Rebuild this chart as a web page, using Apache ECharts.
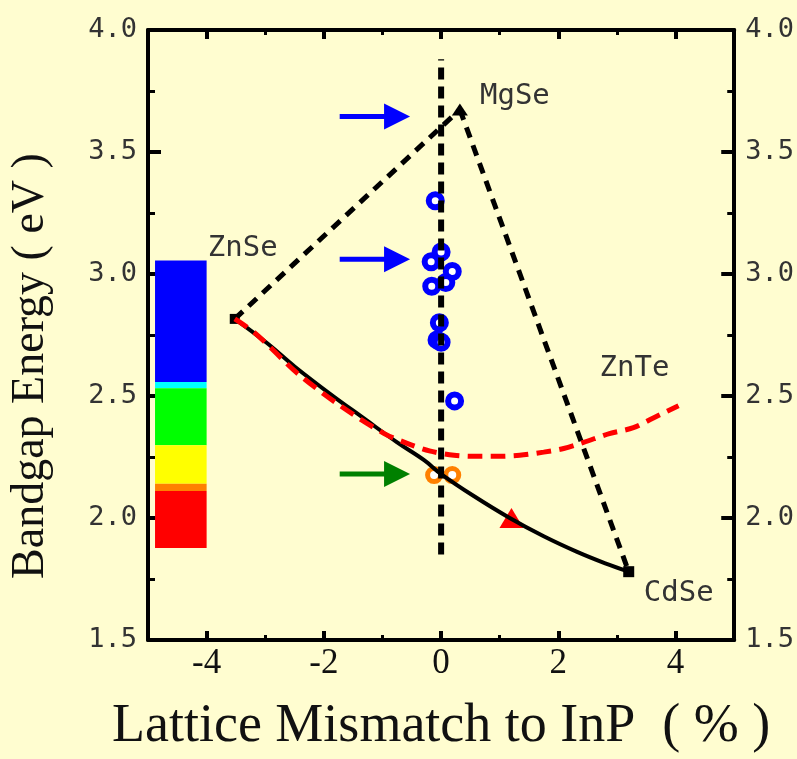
<!DOCTYPE html>
<html>
<head>
<meta charset="utf-8">
<script src="https://cdn.jsdelivr.net/npm/echarts@6/dist/echarts.min.js"></script>
<style>
  html, body { margin: 0; padding: 0; background: #fffdd0; }
  #chart { width: 797px; height: 759px; }
</style>
</head>
<body>
<div id="chart"></div>
<script>
// ---- axis ticks ----
const xMajorTicks = [-4, -2, 0, 2, 4];
const xMinorTicks = [-3, -1, 1, 3];

// ---- binary compounds: lattice mismatch to InP (%) and bandgap (eV) ----
const compoundNames = ['ZnSe', 'MgSe', 'CdSe', 'ZnTe'];
const compoundX = [-3.52, 0.32, 3.2, 4.05];
const compoundY = [2.816, 3.674, 1.78, 2.46];

// ---- ZnCdSe alloy (solid) ----
const znCdSeX = [-3.52, -2.96, -2.5, -1.89, -1.31, -0.75, -0.29, 0.0, 0.55, 1.17, 1.75, 2.31, 2.8, 3.2];
const znCdSeY = [2.816, 2.715, 2.621, 2.508, 2.407, 2.31, 2.237, 2.18, 2.091, 2.0, 1.925, 1.862, 1.814, 1.78];

// ---- ZnSeTe alloy (dashed) ----
const znSeTeX = [-3.52, -3.16, -2.45, -1.72, -0.97, -0.58, -0.2, 0.22, 0.56, 1.0, 1.34, 1.75, 2.09, 2.43, 2.87, 3.28, 3.62, 4.05];
const znSeTeY = [2.816, 2.755, 2.593, 2.46, 2.346, 2.306, 2.275, 2.257, 2.253, 2.253, 2.257, 2.27, 2.285, 2.31, 2.346, 2.37, 2.41, 2.46];

// ---- lattice-matched condition ----
const matchedX = [0, 0];
const matchedY = [1.85, 3.88];

// ---- measured samples ----
const blueX = [-0.1, 0.0, -0.17, 0.19, -0.16, 0.08, -0.03, -0.07, 0.0, 0.23];
const blueY = [3.30, 3.09, 3.05, 3.01, 2.95, 2.965, 2.80, 2.73, 2.72, 2.48];
const orangeX = [-0.12, 0.19];
const orangeY = [2.176, 2.176];
const triangleX = [1.2];
const triangleY = [2.0];

// ---- arrows pointing at target energies ----
const arrowY = [3.646, 3.06, 2.18];
const arrowTailX = -1.73;
const arrowTipX = -0.53;

// ---- visible spectrum bar ----
const spectrumX = [-4.88, -4.0];
const spectrumTop = [3.055, 2.557, 2.532, 2.298, 2.140, 2.111];
const spectrumBottom = [2.557, 2.532, 2.298, 2.140, 2.111, 1.877];

// styles
const bandColors = ['#0000ff', '#00ffff', '#00ff00', '#ffff00', '#ff8000', '#ff0000'];
const arrowColors = ['#0000ff', '#0000ff', '#008000'];
const compoundStyle = {
  ZnSe: { symbol: 'rect', size: 10, offset: [8, -70] },
  MgSe: { symbol: 'triangle', size: [16, 12], offset: [55, -13] },
  CdSe: { symbol: 'rect', size: 11, offset: [50, 22] },
  ZnTe: { symbol: 'circle', size: 0, offset: [-44, -37] }
};

const zip = (xs, ys) => xs.map((x, i) => [x, ys[i]]);

const monoFont = 'DejaVu Sans Mono';
const serifFont = 'Liberation Serif';

function xAxisDef(position, ticks, len, width, withLine, withLabel) {
  return {
    type: 'value', min: -5, max: 5, position: position,
    axisLine: { show: withLine, onZero: false, lineStyle: { color: '#000', width: 4 } },
    axisTick: { show: true, inside: true, length: len, customValues: ticks, lineStyle: { color: '#000', width: width } },
    axisLabel: withLabel
      ? { show: true, customValues: ticks, fontFamily: serifFont, fontSize: 35, color: '#111', margin: 6 }
      : { show: false },
    splitLine: { show: false }
  };
}

function yAxisDef(position) {
  return {
    type: 'value', min: 1.5, max: 4.0, interval: 0.5, position: position,
    axisLine: { show: true, onZero: false, lineStyle: { color: '#000', width: 4 } },
    axisTick: { show: true, inside: true, length: 13, lineStyle: { color: '#000', width: 4 } },
    minorTick: { show: true, splitNumber: 2, length: 7, lineStyle: { color: '#000', width: 3 } },
    axisLabel: { show: true, formatter: v => v.toFixed(1), fontFamily: monoFont, fontSize: 27, color: '#333', margin: 11 },
    splitLine: { show: false },
    minorSplitLine: { show: false }
  };
}

const xBottom = xAxisDef('bottom', xMajorTicks, 9, 4, true, true);
xBottom.name = 'Lattice Mismatch to InP  ( % )';
xBottom.nameLocation = 'middle';
xBottom.nameGap = 60;
xBottom.nameTextStyle = { fontFamily: serifFont, fontSize: 54, color: '#111' };

const yLeft = yAxisDef('left');
yLeft.name = 'Bandgap Energy ( eV )';
yLeft.nameLocation = 'middle';
yLeft.nameGap = 94;
yLeft.nameTextStyle = { fontFamily: serifFont, fontSize: 46, color: '#111', padding: [0, 62, 0, 0] };

const chart = echarts.init(document.getElementById('chart'), null, { renderer: 'canvas' });

chart.setOption({
  animation: false,
  backgroundColor: '#fffdd0',
  grid: { left: 148, right: 60, top: 30, bottom: 112, containLabel: false },
  xAxis: [
    xBottom,
    xAxisDef('bottom', xMinorTicks, 5, 3, false, false),
    xAxisDef('top', xMajorTicks, 9, 4, true, false),
    xAxisDef('top', xMinorTicks, 5, 3, false, false)
  ],
  yAxis: [yLeft, yAxisDef('right')],
  series: [
    {
      name: 'spectrum', type: 'custom', silent: true,
      encode: { x: [0, 2], y: [1, 3] },
      data: spectrumTop.map((t, i) => [spectrumX[0], t, spectrumX[1], spectrumBottom[i], i]),
      renderItem: (params, api) => {
        const p1 = api.coord([api.value(0), api.value(1)]);
        const p2 = api.coord([api.value(2), api.value(3)]);
        return {
          type: 'rect',
          shape: { x: p1[0], y: p1[1], width: p2[0] - p1[0], height: p2[1] - p1[1] },
          style: { fill: bandColors[api.value(4)] }
        };
      }
    },
    {
      name: 'ZnSe-MgSe', type: 'line', symbol: 'none',
      data: [[compoundX[0], compoundY[0]], [compoundX[1], compoundY[1]]],
      lineStyle: { color: '#000', width: 5, type: [11, 8] }
    },
    {
      name: 'MgSe-CdSe', type: 'line', symbol: 'none',
      data: [[compoundX[1], compoundY[1]], [compoundX[2], compoundY[2]]],
      lineStyle: { color: '#000', width: 5, type: [11, 8] }
    },
    {
      name: 'ZnCdSe', type: 'line', symbol: 'none', smooth: 0.4,
      data: zip(znCdSeX, znCdSeY),
      lineStyle: { color: '#000', width: 4 }
    },
    {
      name: 'ZnSeTe', type: 'line', symbol: 'none', smooth: 0.3,
      data: zip(znSeTeX, znSeTeY),
      lineStyle: { color: '#ff0000', width: 5, type: [15, 8] }
    },
    {
      name: 'blue samples', type: 'scatter', symbol: 'circle', symbolSize: 13,
      data: zip(blueX, blueY),
      itemStyle: { color: '#ffffff', borderColor: '#0000ff', borderWidth: 6, opacity: 1 }
    },
    {
      name: 'orange samples', type: 'scatter', symbol: 'circle', symbolSize: 13,
      data: zip(orangeX, orangeY),
      itemStyle: { color: '#ffffff', borderColor: '#ff8000', borderWidth: 5, opacity: 1 }
    },
    {
      name: 'lattice matched', type: 'line', symbol: 'none',
      data: zip(matchedX, matchedY),
      lineStyle: { color: '#000', width: 6, type: [12, 7] }
    },
    {
      name: 'red sample', type: 'scatter', symbol: 'triangle', symbolSize: [24, 20],
      data: zip(triangleX, triangleY),
      itemStyle: { color: '#ff0000', opacity: 1 }
    },
    {
      name: 'compounds', type: 'scatter',
      data: compoundNames.map((n, i) => ({
        name: n,
        value: [compoundX[i], compoundY[i]],
        symbol: compoundStyle[n].symbol,
        symbolSize: compoundStyle[n].size,
        label: { offset: compoundStyle[n].offset }
      })),
      itemStyle: { color: '#000', opacity: 1 },
      label: {
        show: true, position: 'inside', formatter: '{b}',
        fontFamily: monoFont, fontSize: 29, color: '#333'
      }
    },
    {
      name: 'arrows', type: 'custom', silent: true,
      encode: { x: [0, 1], y: 2 },
      data: arrowY.map((y, i) => [arrowTailX, arrowTipX, y, i]),
      renderItem: (params, api) => {
        const tail = api.coord([api.value(0), api.value(2)]);
        const tip = api.coord([api.value(1), api.value(2)]);
        const color = arrowColors[api.value(3)];
        const headLen = 26, headHalf = 13;
        return {
          type: 'group',
          children: [
            {
              type: 'line',
              shape: { x1: tail[0], y1: tail[1], x2: tip[0] - headLen + 1, y2: tip[1] },
              style: { stroke: color, lineWidth: 5 }
            },
            {
              type: 'polygon',
              shape: { points: [[tip[0], tip[1]], [tip[0] - headLen, tip[1] - headHalf], [tip[0] - headLen, tip[1] + headHalf]] },
              style: { fill: color }
            }
          ]
        };
      }
    }
  ]
});
</script>
</body>
</html>
